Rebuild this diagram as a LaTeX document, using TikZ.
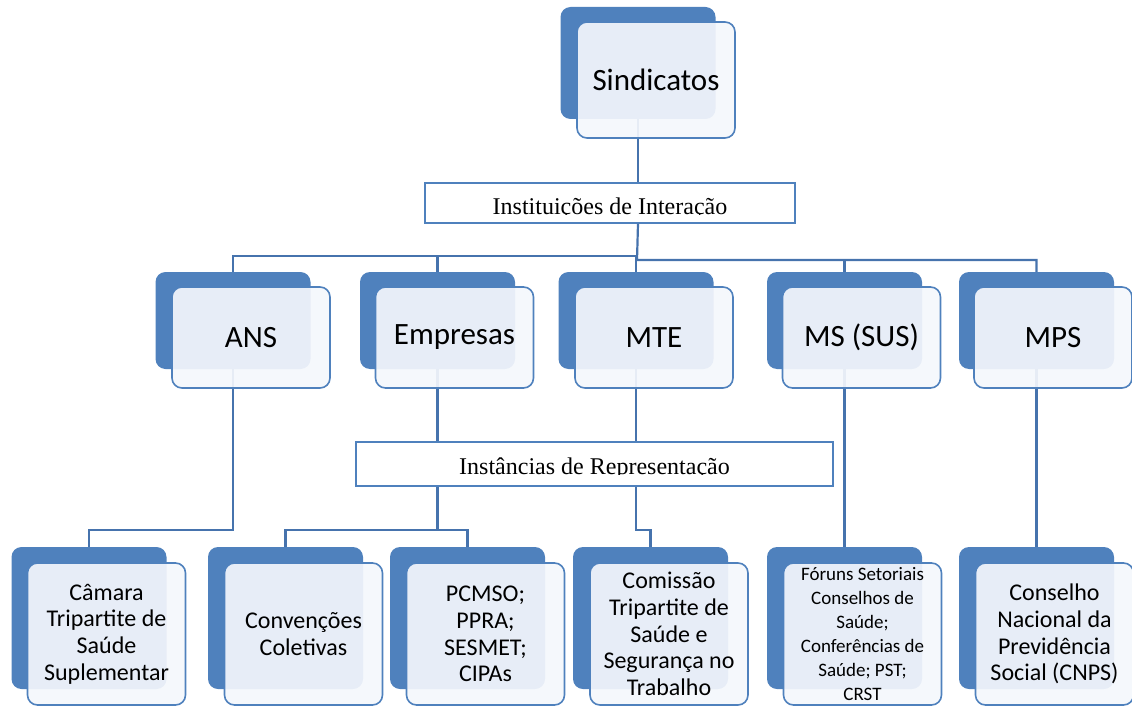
\documentclass[tikz,border=0pt]{standalone}
\usepackage{fontspec}
\setmainfont{Carlito}
\newfontfamily\bandfont{Liberation Serif}
\usetikzlibrary{positioning}
\definecolor{orgblue}{HTML}{4F81BD}
\definecolor{orgline}{HTML}{4673AD}
\definecolor{orgpale}{HTML}{F4F7FC}

\begin{document}
\begin{tikzpicture}[x=1pt, y=-1pt,
  backbox/.style={fill=orgblue, rounded corners=10pt, minimum width=155pt, inner sep=0pt},
  frontbox/.style={draw=orgblue, line width=1.6pt, fill=orgpale, fill opacity=0.92,
    text opacity=1, rounded corners=10pt, minimum width=158pt, align=center, inner sep=2pt},
  toptext/.style={font=\fontsize{31}{36}\selectfont},
  lowtext/.style={font=\fontsize{24}{26.7}\selectfont},
  smalltext/.style={font=\fontsize{19}{24}\selectfont},
  band/.style={draw=orgblue, line width=1.4pt, fill=white, inner sep=0pt},
  bandtext/.style={font=\bandfont\fontsize{24}{28}\selectfont, anchor=base, inner sep=0pt},
  link/.style={draw=orgline, line width=2.2pt}
]
\useasboundingbox (0,0) rectangle (1132,706);

% back plates
\node[backbox, minimum height=112pt] (sindB) at (638,63) {};
\node[backbox, minimum height=97pt] (ansB) at (233,320.5) {};
\node[backbox, minimum height=97pt] (empB) at (437.5,320.5) {};
\node[backbox, minimum height=97pt] (mteB) at (636,320.5) {};
\node[backbox, minimum height=97pt] (msB) at (844.5,320.5) {};
\node[backbox, minimum height=97pt] (mpsB) at (1036.5,320.5) {};
\node[backbox, minimum height=142pt] (camB) at (89,618) {};
\node[backbox, minimum height=142pt] (cnvB) at (285.5,618) {};
\node[backbox, minimum height=142pt] (pcmB) at (467.5,618) {};
\node[backbox, minimum height=142pt] (comB) at (650.5,618) {};
\node[backbox, minimum height=142pt] (forB) at (844.5,618) {};
\node[backbox, minimum height=142pt] (cnsB) at (1036.5,618) {};

% bands
\node[band, minimum width=370pt, minimum height=40pt] (inst) at (610,203) {};
\node[band, minimum width=477pt, minimum height=44pt] (rep) at (594.5,464) {};
\begin{scope}
  \clip (inst.north west) rectangle (795,214);
  \node[bandtext] (instT) at (610,214) {Instituições de Interação};
\end{scope}
\begin{scope}
  \clip (rep.north west) rectangle (833,474.5);
  \node[bandtext] (repT) at (594.5,474.5) {Instâncias de Representação};
\end{scope}

% connectors
\coordinate (busL) at (636,256);
\coordinate (busR) at (637,260);
\draw[link] (sindB.south) -- (sindB.south |- inst.north);
\draw[link] (sindB.south |- inst.south) -- (busR) -| (mpsB.north);
\draw[link] (mteB.north) -- (busL) -| (ansB.north);
\draw[link] (busL -| empB.north) -- (empB.north);
\draw[link] (busR -| msB.north) -- (msB.north);
\draw[link] (ansB.south) -- ++(0,161) -| (camB.north);
\draw[link] (empB.south) -- (empB.south |- rep.north);
\draw[link] (mteB.south) -- (mteB.south |- rep.north);
\draw[link] (empB.south |- rep.south) -- ++(0,43) coordinate (forkE);
\draw[link] (cnvB.north) |- (forkE) -| (pcmB.north);
\draw[link] (mteB.south |- rep.south) -- ++(0,43) -| (comB.north);
\draw[link] (msB.south) -- (forB.north);
\draw[link] (mpsB.south) -- (cnsB.north);

% front cards
\node[frontbox, toptext, minimum height=116pt] (sind) at (656,80) {Sindicatos};
\node[frontbox, toptext, minimum height=101pt] (ans) at (251,337.5) {ANS};
\node[frontbox, toptext, minimum height=101pt] (emp) at (454.5,337.5) {Empresas};
\node[frontbox, toptext, minimum height=101pt] (mte) at (654,337.5) {MTE};
\node[frontbox, toptext, minimum height=101pt] (ms) at (861.5,337.5) {MS (SUS)};
\node[frontbox, toptext, minimum height=101pt] (mps) at (1053,337.5) {MPS};
\node[frontbox, lowtext, minimum height=142pt] (cam) at (106.5,634)
  {Câmara\\Tripartite de\\Saúde\\Suplementar};
\node[frontbox, lowtext, minimum height=142pt] (cnv) at (303.5,634)
  {Convenções\\Coletivas};
\node[frontbox, lowtext, minimum height=142pt] (pcm) at (485.5,634)
  {PCMSO;\\PPRA;\\SESMET;\\CIPAs};
\node[frontbox, lowtext, minimum height=142pt] (com) at (669,634)
  {Comissão\\Tripartite de\\Saúde e\\Segurança no\\Trabalho};
\node[frontbox, smalltext, minimum height=142pt] (for) at (862.5,634)
  {Fóruns Setoriais\\Conselhos de\\Saúde;\\Conferências de\\Saúde; PST;\\CRST};
\node[frontbox, lowtext, minimum height=142pt] (cns) at (1054.5,634)
  {Conselho\\Nacional da\\Previdência\\Social (CNPS)};
\end{tikzpicture}
\end{document}
